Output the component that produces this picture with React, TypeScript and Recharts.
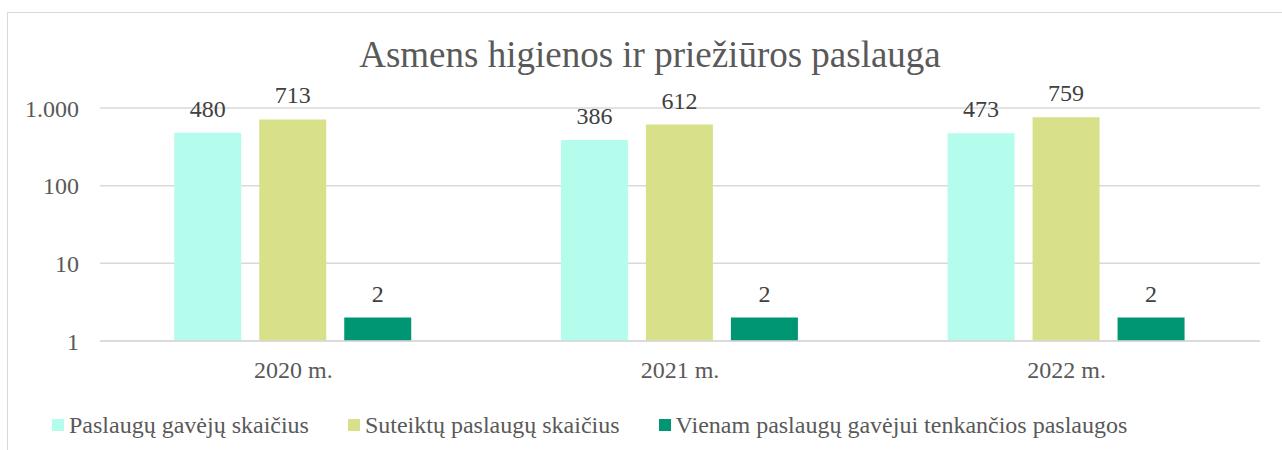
import React from "react";
import { BarChart, Bar, XAxis, YAxis, CartesianGrid, Legend, LabelList } from "recharts";

const categories = ["2020 m.", "2021 m.", "2022 m."];
const recipients = [480, 386, 473];
const services = [713, 612, 759];
const perRecipient = [2, 2, 2];
const yTicks = [1, 10, 100, 1000];
const seriesNames = [
  "Paslaugų gavėjų skaičius",
  "Suteiktų paslaugų skaičius",
  "Vienam paslaugų gavėjui tenkančios paslaugos",
];
const seriesColors = ["#B4FCEC", "#D8E08A", "#009674"];

const data = categories.map((c, i) => ({
  name: c,
  a: recipients[i],
  b: services[i],
  c: perRecipient[i],
}));

const FONT = '"Liberation Serif", "Times New Roman", serif';
const FS = 24;

const fmt = (v: number) => (v >= 1000 ? v.toLocaleString("de-DE") : String(v));

const LegendContent = (props: any) => {
  const payload = props.payload || [];
  return (
    <div style={{ display: "flex", alignItems: "center", fontFamily: FONT, fontSize: FS, color: "#595959", whiteSpace: "nowrap", lineHeight: "28px" }}>
      {payload.map((p: any, i: number) => (
        <div key={i} style={{ display: "flex", alignItems: "center", marginRight: 39 }}>
          <span style={{ width: 12, height: 12, background: p.color, display: "inline-block", marginRight: 5 }} />
          <span>{p.value}</span>
        </div>
      ))}
    </div>
  );
};

export default function App() {
  return (
    <div style={{ position: "absolute", left: 0, top: 0, width: 1282, height: 450, overflow: "hidden", background: "#fff" }}>
      <div style={{ position: "absolute", left: 7, top: 12, width: 1300, height: 500, border: "1px solid #d9d9d9", boxSizing: "border-box" }} />
      <div style={{ position: "absolute", left: 0, width: 1300, top: 35, textAlign: "center", fontFamily: FONT, fontSize: 37, color: "#595959", lineHeight: "40px" }}>
        Asmens higienos ir priežiūros paslauga
      </div>
      <div style={{ position: "absolute", left: 0, top: 0 }}>
        <BarChart
          width={1282}
          height={450}
          data={data}
          margin={{ top: 108, right: 22, left: 0, bottom: 79 }}
          barCategoryGap="19.2%"
          barGap={18}
        >
          <CartesianGrid vertical={false} stroke="#d9d9d9" strokeWidth={1.5} />
          <XAxis
            dataKey="name"
            height={30}
            tickLine={false}
            tickSize={0}
            tickMargin={20}
            axisLine={{ stroke: "#d9d9d9", strokeWidth: 1.5 }}
            tick={{ fill: "#595959", fontSize: FS, fontFamily: FONT }}
          />
          <YAxis
            scale="log"
            domain={[1, 1000]}
            ticks={yTicks}
            allowDataOverflow
            width={100}
            axisLine={false}
            tickLine={false}
            tickSize={0}
            tickMargin={21}
            tickFormatter={fmt}
            tick={{ fill: "#595959", fontSize: FS, fontFamily: FONT }}
          />
          <Legend
            layout="horizontal"
            verticalAlign="middle"
            align="center"
            wrapperStyle={{ top: 411, left: 52, width: "auto" }}
            content={<LegendContent />}
          />
          <Bar dataKey="a" name={seriesNames[0]} fill={seriesColors[0]} isAnimationActive={false}>
            <LabelList dataKey="a" position="top" offset={16} fill="#404040" fontSize={FS} fontFamily={FONT} formatter={fmt} />
          </Bar>
          <Bar dataKey="b" name={seriesNames[1]} fill={seriesColors[1]} isAnimationActive={false}>
            <LabelList dataKey="b" position="top" offset={16} fill="#404040" fontSize={FS} fontFamily={FONT} formatter={fmt} />
          </Bar>
          <Bar dataKey="c" name={seriesNames[2]} fill={seriesColors[2]} isAnimationActive={false}>
            <LabelList dataKey="c" position="top" offset={16} fill="#404040" fontSize={FS} fontFamily={FONT} formatter={fmt} />
          </Bar>
        </BarChart>
      </div>
    </div>
  );
}
